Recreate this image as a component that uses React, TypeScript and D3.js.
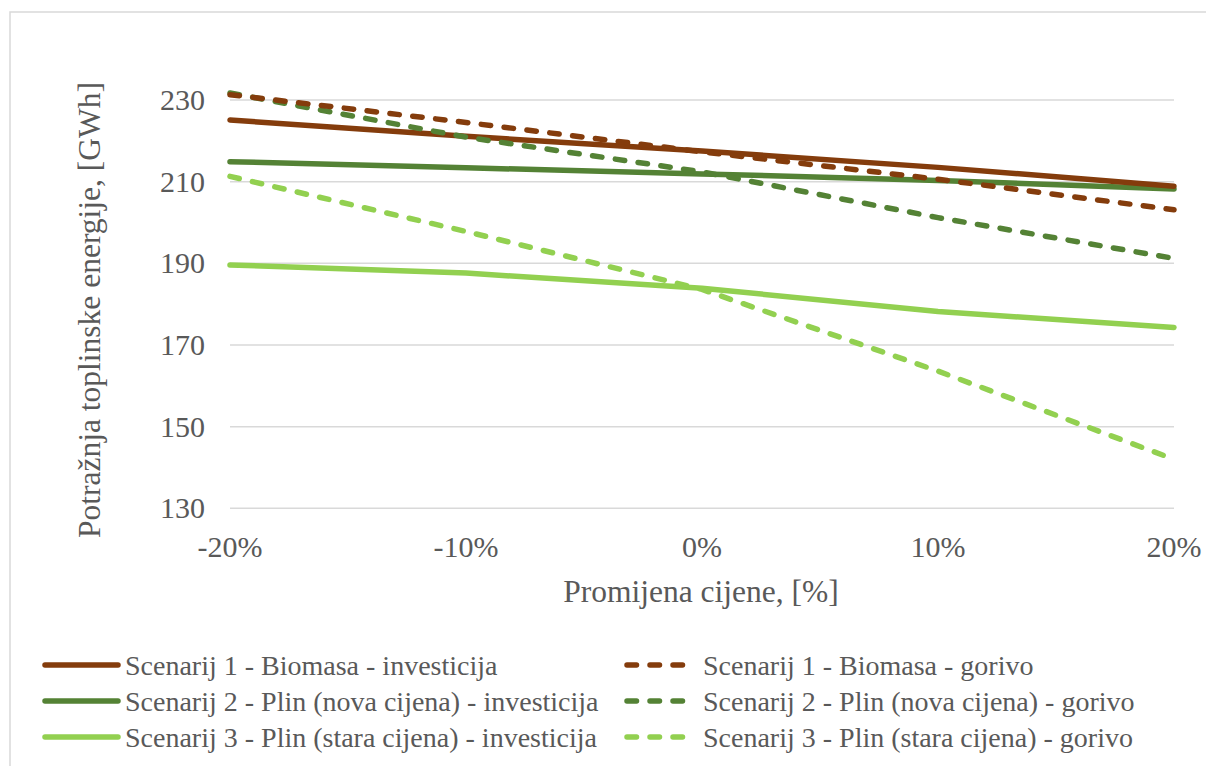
import * as d3 from "d3";

// -----------------------------
// Data
const categories = ["-20%", "-10%", "0%", "10%", "20%"];

const sc1Invest = [225.1, 221.1, 217.5, 213.5, 208.9];
const sc1Fuel = [231.3, 224.5, 217.3, 210.6, 203.1];
const sc2Invest = [214.9, 213.4, 211.9, 210.3, 208.2];
const sc2Fuel = [231.7, 220.9, 212.4, 201.2, 191.2];
const sc3Invest = [189.6, 187.6, 183.9, 178.2, 174.3];
const sc3Fuel = [211.3, 197.8, 183.6, 163.6, 142.0];

const yTicks = [130, 150, 170, 190, 210, 230];

const seriesNames = [
  "Scenarij 1 - Biomasa - investicija",
  "Scenarij 1 - Biomasa - gorivo",
  "Scenarij 2 - Plin (nova cijena) - investicija",
  "Scenarij 2 - Plin (nova cijena) - gorivo",
  "Scenarij 3 - Plin (stara cijena) - investicija",
  "Scenarij 3 - Plin (stara cijena) - gorivo",
];

const BROWN = "#843C0C";
const DARK_GREEN = "#548235";
const LIGHT_GREEN = "#92D050";
const TEXT = "#595959";
const GRID = "#D9D9D9";
const FONT = "'Liberation Serif', 'Times New Roman', serif";

const series = [
  { name: seriesNames[0], values: sc1Invest, color: BROWN, dashed: false },
  { name: seriesNames[1], values: sc1Fuel, color: BROWN, dashed: true },
  { name: seriesNames[2], values: sc2Invest, color: DARK_GREEN, dashed: false },
  { name: seriesNames[3], values: sc2Fuel, color: DARK_GREEN, dashed: true },
  { name: seriesNames[4], values: sc3Invest, color: LIGHT_GREEN, dashed: false },
  { name: seriesNames[5], values: sc3Fuel, color: LIGHT_GREEN, dashed: true },
];

export default function App() {
  const width = 1206;
  const height = 766;

  const x = d3.scalePoint<string>().domain(categories).range([230, 1174]);
  const y = d3.scaleLinear().domain([130, 230]).range([508.3, 100]);

  const line = d3
    .line<number>()
    .x((_, i) => x(categories[i]) as number)
    .y((d) => y(d));

  // draw order: solid lines first, then dashed on top (like the source)
  const drawOrder = [4, 2, 0, 5, 3, 1];

  // legend layout: two columns, three rows
  const legendRows = [665, 701, 737];
  const legendItems = series.map((s, i) => {
    const col = i % 2;
    const row = Math.floor(i / 2);
    return { ...s, col, y: legendRows[row] };
  });

  return (
    <svg
      width={width}
      height={height}
      style={{ position: "absolute", left: 0, top: 0, background: "#fff" }}
      fontFamily={FONT}
    >
      {/* chart border */}
      <rect x={10} y={12} width={1300} height={900} fill="none" stroke={GRID} strokeWidth={1.5} />

      {/* gridlines */}
      {yTicks.map((t) => (
        <line key={t} x1={230} x2={1174} y1={y(t)} y2={y(t)} stroke={GRID} strokeWidth={1.5} />
      ))}

      {/* y tick labels */}
      {yTicks.map((t) => (
        <text key={t} x={205} y={y(t) + 10} textAnchor="end" fontSize={30} fill={TEXT}>
          {t}
        </text>
      ))}

      {/* x tick labels */}
      {categories.map((c) => (
        <text key={c} x={x(c)} y={557} textAnchor="middle" fontSize={30} fill={TEXT}>
          {c}
        </text>
      ))}

      {/* axis titles */}
      <text x={701} y={602} textAnchor="middle" fontSize={31.5} fill={TEXT}>
        Promijena cijene, [%]
      </text>
      <text
        transform="translate(100,310) rotate(-90)"
        textAnchor="middle"
        fontSize={31.5}
        fill={TEXT}
      >
        Potražnja toplinske energije, [GWh]
      </text>

      {/* series lines */}
      {drawOrder.map((i) => {
        const s = series[i];
        return (
          <path
            key={s.name}
            d={line(s.values) ?? ""}
            fill="none"
            stroke={s.color}
            strokeWidth={5.5}
            strokeLinejoin="round"
            strokeLinecap="round"
            strokeDasharray={s.dashed ? "9.5,13.5" : undefined}
          />
        );
      })}

      {/* legend */}
      {legendItems.map((d) => {
        const x0 = d.col === 0 ? 45 : 627;
        const x1 = d.col === 0 ? 118 : 693;
        const tx = d.col === 0 ? 125 : 703;
        return (
          <g key={d.name}>
            <line
              x1={x0}
              x2={x1}
              y1={d.y}
              y2={d.y}
              stroke={d.color}
              strokeWidth={5.5}
              strokeLinecap="round"
              strokeDasharray={d.dashed ? "9.5,13.5" : undefined}
            />
            <text x={tx} y={d.y + 9.5} fontSize={28} fill={TEXT}>
              {d.name}
            </text>
          </g>
        );
      })}
    </svg>
  );
}
